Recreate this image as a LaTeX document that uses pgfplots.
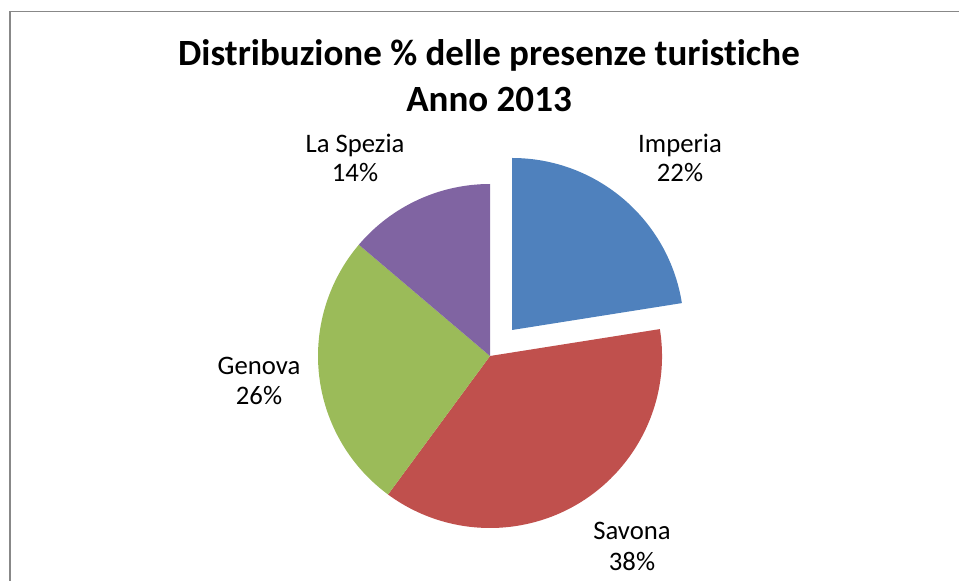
\documentclass[border=0pt]{standalone}
\usepackage{pgfplots}
\pgfplotsset{compat=1.18}
\usepackage{fontspec}
\setmainfont{Carlito}[Ligatures=NoCommon]
\definecolor{cImp}{HTML}{4F81BD}
\definecolor{cSav}{HTML}{C0504D}
\definecolor{cGen}{HTML}{9BBB59}
\definecolor{cSpe}{HTML}{8064A2}
\definecolor{frame}{HTML}{888888}
\begin{document}
\begin{tikzpicture}
\begin{axis}[
  at={(0,0)}, anchor=south west,
  scale only axis, width=959bp, height=581bp,
  xmin=0, xmax=959, ymin=0, ymax=581,
  hide axis, clip=false,
]
% values (%): Imperia 22.5, Savona 37.6, Genova 26.1, La Spezia 13.8
% Imperia (exploded)
\fill[cImp] (axis cs:512,251) -- ([shift={(90:172bp)}]axis cs:512,251)
  arc[start angle=90, end angle={90-3.6*22.5}, radius=172bp] -- cycle;
% Savona
\fill[cSav] (axis cs:490,225) -- ([shift={({90-3.6*22.5}:172bp)}]axis cs:490,225)
  arc[start angle={90-3.6*22.5}, end angle={90-3.6*(22.5+37.6)}, radius=172bp] -- cycle;
% Genova
\fill[cGen] (axis cs:490,225) -- ([shift={({90-3.6*(22.5+37.6)}:172bp)}]axis cs:490,225)
  arc[start angle={90-3.6*(22.5+37.6)}, end angle={90-3.6*(22.5+37.6+26.1)}, radius=172bp] -- cycle;
% La Spezia
\fill[cSpe] (axis cs:490,225) -- ([shift={({90-3.6*(22.5+37.6+26.1)}:172bp)}]axis cs:490,225)
  arc[start angle={90-3.6*(22.5+37.6+26.1)}, end angle={90-3.6*(22.5+37.6+26.1+13.8)}, radius=172bp] -- cycle;
% frame
\draw[frame, line width=1.6bp] (axis cs:10,-20) -- (axis cs:10,569.5) -- (axis cs:990,569.5);
% title
\node[anchor=base, font=\fontsize{37bp}{44bp}\selectfont\bfseries] at (axis cs:489,515) {Distribuzione \% delle presenze turistiche};
\node[anchor=base, font=\fontsize{37bp}{44bp}\selectfont\bfseries] at (axis cs:489,469) {Anno 2013};
% labels
\tikzset{lab/.style={anchor=base, font=\fontsize{26.7bp}{32bp}\selectfont}}
\node[lab] at (axis cs:680,428) {Imperia};
\node[lab] at (axis cs:680,399) {22\%};
\node[lab] at (axis cs:355,428) {La Spezia};
\node[lab] at (axis cs:355,399) {14\%};
\node[lab] at (axis cs:259,206) {Genova};
\node[lab] at (axis cs:259,176) {26\%};
\node[lab] at (axis cs:632,41) {Savona};
\node[lab] at (axis cs:632,11) {38\%};
\end{axis}
\pgfresetboundingbox
\path[use as bounding box] (0,0) rectangle (959bp,581bp);
\end{tikzpicture}
\end{document}
